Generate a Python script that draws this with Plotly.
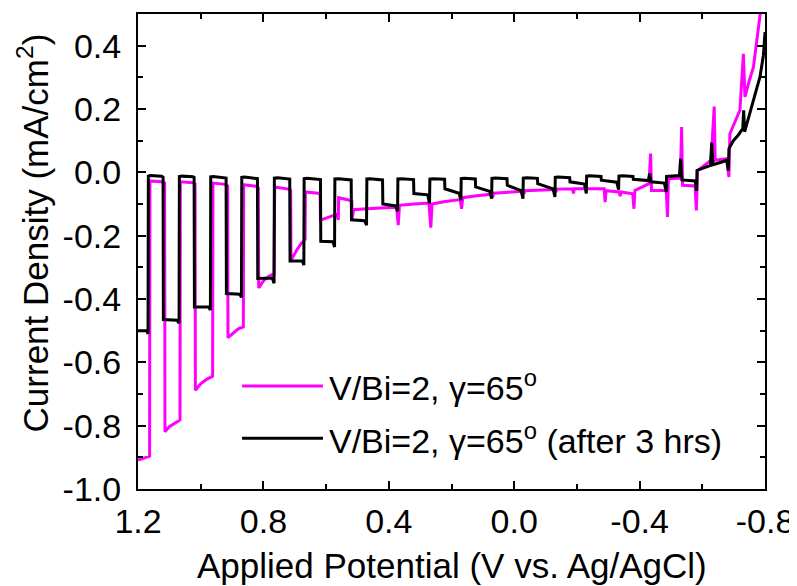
import plotly.graph_objects as go

# ---------------- data ----------------
# Applied potential (V vs. Ag/AgCl) and current density (mA/cm^2)
magenta_v = [1.200, 1.175, 1.163,
             1.162, 1.125, 1.115,
             1.114, 1.100, 1.080, 1.066,
             1.065, 1.025, 1.018,
             1.017, 1.000, 0.980, 0.962,
             0.961, 0.922, 0.914,
             0.913, 0.895, 0.880, 0.864,
             0.863, 0.822, 0.816,
             0.815, 0.800, 0.785, 0.766,
             0.764, 0.720, 0.713,
             0.712, 0.694, 0.680, 0.667,
             0.666, 0.625, 0.619,
             0.618, 0.590, 0.565, 0.561,
             0.560, 0.525, 0.518,
             0.517, 0.512, 0.470, 0.420, 0.375, 0.370, 0.366,
             0.320, 0.272, 0.266, 0.262, 0.220, 0.172, 0.168, 0.164,
             0.120, 0.072, 0.069, 0.066, 0.020, -0.028, -0.031, -0.034,
             -0.130, -0.133, -0.136, -0.186, -0.189, -0.192,
             -0.287, -0.290, -0.293, -0.335, -0.338, -0.341,
             -0.378, -0.382, -0.385, -0.430, -0.435, -0.438,
             -0.485, -0.489, -0.492, -0.530, -0.534, -0.537,
             -0.577, -0.581, -0.585, -0.628, -0.638, -0.641,
             -0.678, -0.685, -0.688, -0.720, -0.731, -0.736,
             -0.750, -0.763, -0.784, -0.790]
magenta_j = [-0.909, -0.900, -0.896,
             -0.027, -0.030, -0.034,
             -0.819, -0.803, -0.790, -0.782,
             -0.030, -0.033, -0.037,
             -0.688, -0.668, -0.653, -0.644,
             -0.034, -0.038, -0.043,
             -0.522, -0.505, -0.494, -0.488,
             -0.039, -0.044, -0.050,
             -0.365, -0.343, -0.330, -0.320,
             -0.046, -0.053, -0.057,
             -0.278, -0.246, -0.225, -0.212,
             -0.062, -0.066, -0.068,
             -0.151, -0.140, -0.132, -0.150,
             -0.080, -0.088, -0.092,
             -0.146, -0.118, -0.115, -0.112, -0.110, -0.167, -0.104,
             -0.100, -0.097, -0.175, -0.100, -0.092, -0.086, -0.115, -0.080,
             -0.074, -0.069, -0.080, -0.066, -0.063, -0.060, -0.068, -0.058,
             -0.054, -0.062, -0.053, -0.052, -0.067, -0.052,
             -0.052, -0.094, -0.058, -0.062, -0.075, -0.062,
             -0.068, -0.115, -0.057, -0.036, 0.059, -0.057,
             -0.057, -0.141, -0.020, -0.018, 0.143, -0.041,
             -0.043, -0.120, 0.006, 0.038, 0.208, 0.038,
             0.043, -0.015, 0.122, 0.196, 0.374, 0.238,
             0.290, 0.332, 0.495, 0.560]

black_v = [1.200, 1.172, 1.168,
           1.167, 1.160, 1.125, 1.120,
           1.119, 1.075, 1.069,
           1.068, 1.060, 1.025, 1.021,
           1.020, 0.975, 0.969,
           0.968, 0.960, 0.923, 0.919,
           0.918, 0.875, 0.870,
           0.869, 0.860, 0.823, 0.819,
           0.818, 0.772, 0.766,
           0.765, 0.755, 0.719, 0.716,
           0.715, 0.676, 0.671,
           0.670, 0.660, 0.621, 0.618,
           0.617, 0.578, 0.573,
           0.572, 0.560, 0.523, 0.520,
           0.519, 0.477, 0.471,
           0.470, 0.460, 0.423, 0.420,
           0.419, 0.378, 0.372,
           0.371, 0.360, 0.324, 0.321,
           0.320, 0.276, 0.270,
           0.269, 0.260, 0.225, 0.222,
           0.221, 0.176, 0.170,
           0.169, 0.160, 0.127, 0.124,
           0.123, 0.078, 0.072,
           0.071, 0.060, 0.026, 0.023,
           0.022, -0.022, -0.028,
           -0.029, -0.040, -0.071, -0.074,
           -0.075, -0.124, -0.130,
           -0.131, -0.140, -0.174, -0.177,
           -0.178, -0.224, -0.230,
           -0.231, -0.240, -0.274, -0.277,
           -0.278, -0.327, -0.333,
           -0.334, -0.345, -0.376, -0.379,
           -0.380, -0.428, -0.432, -0.436, -0.479, -0.485,
           -0.486, -0.500, -0.527, -0.531, -0.535, -0.577, -0.582,
           -0.583, -0.605, -0.626, -0.630, -0.634, -0.660, -0.678, -0.683,
           -0.685, -0.699, -0.715, -0.729, -0.732, -0.735, -0.750, -0.763,
           -0.775, -0.784, -0.795, -0.800]
black_j = [-0.500, -0.500, -0.510,
           -0.012, -0.010, -0.012, -0.015,
           -0.465, -0.467, -0.476,
           -0.013, -0.012, -0.014, -0.016,
           -0.425, -0.425, -0.435,
           -0.014, -0.013, -0.016, -0.018,
           -0.383, -0.385, -0.395,
           -0.016, -0.015, -0.018, -0.020,
           -0.335, -0.334, -0.350,
           -0.018, -0.017, -0.019, -0.021,
           -0.280, -0.279, -0.293,
           -0.020, -0.019, -0.021, -0.023,
           -0.218, -0.219, -0.236,
           -0.021, -0.020, -0.022, -0.024,
           -0.150, -0.153, -0.167,
           -0.021, -0.020, -0.022, -0.024,
           -0.100, -0.106, -0.123,
           -0.021, -0.020, -0.021, -0.023,
           -0.067, -0.071, -0.098,
           -0.021, -0.020, -0.021, -0.022,
           -0.052, -0.066, -0.088,
           -0.020, -0.019, -0.020, -0.021,
           -0.046, -0.060, -0.083,
           -0.019, -0.018, -0.019, -0.020,
           -0.041, -0.058, -0.083,
           -0.018, -0.017, -0.018, -0.019,
           -0.036, -0.052, -0.078,
           -0.016, -0.015, -0.016, -0.017,
           -0.030, -0.037, -0.067,
           -0.012, -0.011, -0.012, -0.013,
           -0.025, -0.031, -0.055,
           -0.012, -0.011, -0.012, -0.013,
           -0.022, -0.026, -0.004, -0.030, -0.034, -0.062,
           -0.013, -0.012, -0.010, 0.043, -0.024, -0.027, -0.058,
           0.006, 0.013, 0.022, 0.094, 0.024, 0.032, 0.038, 0.006,
           0.075, 0.100, 0.118, 0.138, 0.196, 0.128, 0.185, 0.227,
           0.270, 0.301, 0.370, 0.443]

series_names = ["V/Bi=2, γ=65<sup>o</sup>",
                "V/Bi=2, γ=65<sup>o</sup> (after 3 hrs)"]
series_colors = ["#ff00ff", "#000000"]

x_title = "Applied Potential (V vs. Ag/AgCl)"
y_title = "Current Density (mA/cm<sup>2</sup>)"
x_tickvals = [1.2, 0.8, 0.4, 0.0, -0.4, -0.8]
x_ticktext = ["1.2", "0.8", "0.4", "0.0", "-0.4", "-0.8"]
x_minorvals = [1.0, 0.6, 0.2, -0.2, -0.6]
y_tickvals = [-1.0, -0.8, -0.6, -0.4, -0.2, 0.0, 0.2, 0.4]
y_ticktext = ["-1.0", "-0.8", "-0.6", "-0.4", "-0.2", "0.0", "0.2", "0.4"]
y_minorvals = [-0.9, -0.7, -0.5, -0.3, -0.1, 0.1, 0.3, 0.5]

FONT = "Liberation Sans, Arial, Helvetica, sans-serif"
FS_TICK = 34
FS_TITLE = 35
FS_LEG = 34

fig = go.Figure()
for v, j, name, col in [(magenta_v, magenta_j, series_names[0], series_colors[0]),
                        (black_v, black_j, series_names[1], series_colors[1])]:
    fig.add_trace(go.Scatter(x=v, y=j, mode="lines", name=name,
                             line=dict(color=col, width=3),
                             showlegend=False))

axis_common = dict(
    showline=True, linecolor="black", linewidth=2, mirror="allticks",
    ticks="inside", ticklen=8, tickwidth=2, tickcolor="black",
    showgrid=False, zeroline=False, automargin=False,
    tickfont=dict(family=FONT, size=FS_TICK, color="black"),
)

fig.update_xaxes(range=[1.2, -0.8], tickmode="array", tickvals=x_tickvals,
                 ticktext=x_ticktext, ticklabelstandoff=1,
                 minor=dict(tickmode="array", tickvals=x_minorvals, ticks="inside",
                            ticklen=5, tickwidth=2, tickcolor="black"),
                 **axis_common)
fig.update_yaxes(range=[-1.0, 0.5], tickmode="array", tickvals=y_tickvals,
                 ticktext=y_ticktext, ticklabelstandoff=8,
                 minor=dict(tickmode="array", tickvals=y_minorvals, ticks="inside",
                            ticklen=5, tickwidth=2, tickcolor="black"),
                 **axis_common)

# axis titles placed as in the reference
fig.add_annotation(xref="paper", yref="paper", x=0.5, y=-0.162,
                   xanchor="center", yanchor="middle", showarrow=False,
                   text=x_title, font=dict(family=FONT, size=FS_TITLE, color="black"))
fig.add_annotation(xref="paper", yref="paper", x=-0.166, y=0.54,
                   xanchor="center", yanchor="middle", showarrow=False,
                   textangle=-90,
                   text=y_title, font=dict(family=FONT, size=FS_TITLE, color="black"))

# manual legend (long sample lines as in the reference)
leg_rows_y = [0.217, 0.107]
for yy, name, col in zip(leg_rows_y, series_names, series_colors):
    fig.add_shape(type="line", xref="paper", yref="paper",
                  x0=0.166, x1=0.295, y0=yy, y1=yy,
                  line=dict(color=col, width=3))
    fig.add_annotation(xref="paper", yref="paper", x=0.302, y=yy,
                       xanchor="left", yanchor="middle", showarrow=False,
                       text=name, font=dict(family=FONT, size=FS_LEG, color="black"))

# the page body adds an 8 px offset, so the figure is 8 px smaller
fig.update_layout(
    width=789, height=578,
    margin=dict(l=130, r=32, t=6, b=97),
    paper_bgcolor="white", plot_bgcolor="white",
    font=dict(family=FONT, size=FS_TICK, color="black"),
)

fig.write_html("out.html")
